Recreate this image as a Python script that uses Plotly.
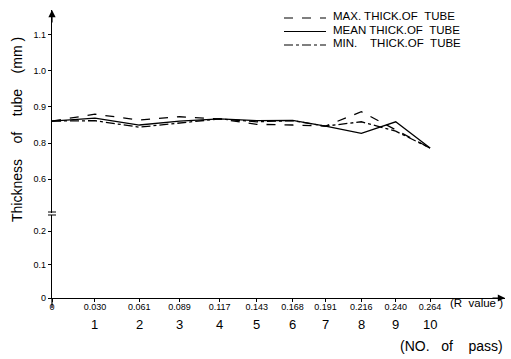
import plotly.graph_objects as go

# ---- data ----
r_values = [0, 0.030, 0.061, 0.089, 0.117, 0.143, 0.168, 0.191, 0.216, 0.240, 0.264]
r_labels = ["0", "0.030", "0.061", "0.089", "0.117", "0.143", "0.168", "0.191", "0.216", "0.240", "0.264"]
pass_numbers = ["", "1", "2", "3", "4", "5", "6", "7", "8", "9", "10"]

max_thick = [0.861, 0.880, 0.864, 0.873, 0.867, 0.852, 0.850, 0.847, 0.887, 0.836, 0.786]
mean_thick = [0.861, 0.869, 0.850, 0.861, 0.867, 0.862, 0.863, 0.847, 0.827, 0.859, 0.786]
min_thick = [0.861, 0.862, 0.844, 0.855, 0.867, 0.859, 0.862, 0.847, 0.859, 0.833, 0.786]

upper_tickvals = [0.7, 0.8, 0.9, 1.0, 1.1]
upper_ticktext = ["0.6", "0.8", "0.9", "1.0", "1.1"]
lower_tickvals = [0, 0.1, 0.2]
lower_ticktext = ["0", "0.1", "0.2"]

NB = "\u00a0"
series_names = ["MAX. THICK.OF" + NB * 2 + "TUBE",
                "MEAN THICK.OF" + NB * 2 + "TUBE",
                "MIN." + NB * 4 + "THICK.OF" + NB * 2 + "TUBE"]
series_values = [max_thick, mean_thick, min_thick]
series_dash = ["dash", "solid", "dashdot"]

FONT = "Liberation Sans"
W, H = 511, 359
ML, MR, MT, MB = 52, 6, 10, 61
PW = W - ML - MR
PH = H - MT - MB

def py(pix):
    """pixel row -> paper y"""
    return (H - MB - pix) / PH

def px(pix):
    """pixel column -> paper x"""
    return (pix - ML) / PW

fig = go.Figure()
for name, vals, dash in zip(series_names, series_values, series_dash):
    fig.add_trace(go.Scatter(
        x=r_values, y=vals, mode="lines", name=name,
        line=dict(color="black", width=1.3, dash=dash),
        xaxis="x", yaxis="y2", showlegend=False, hoverinfo="skip",
    ))
# empty trace so that the lower (broken) y-axis subplot exists
fig.add_trace(go.Scatter(x=[None], y=[None], mode="lines", xaxis="x", yaxis="y",
                         showlegend=False, hoverinfo="skip"))

axis_common = dict(showgrid=False, zeroline=False, showline=True, linecolor="black",
                   linewidth=1.2, ticks="outside", tickcolor="black", ticklen=3,
                   automargin=False,
                   tickfont=dict(family=FONT, size=9, color="black"))

fig.update_layout(
    template="none",
    width=W, height=H,
    margin=dict(l=ML, r=MR, t=MT, b=MB),
    paper_bgcolor="white", plot_bgcolor="white",
    font=dict(family=FONT, color="black"),
    xaxis=dict(domain=[0, 1], range=[0, 0.3163], anchor="y",
               tickvals=r_values, ticktext=r_labels, ticklabelstandoff=-3, **axis_common),
    yaxis=dict(domain=[0, py(215)], range=[0, 0.248], anchor="x",
               tickvals=lower_tickvals, ticktext=lower_ticktext, **axis_common),
    yaxis2=dict(domain=[py(213), 1], range=[0.606, 1.169], anchor="x",
                tickvals=upper_tickvals, ticktext=upper_ticktext, **axis_common),
    showlegend=False,
)

annotations = []
for r, p in zip(r_values, pass_numbers):
    if p:
        annotations.append(dict(x=r, xref="x", y=py(324), yref="paper", text=p,
                                xanchor="center", yanchor="middle",
                                showarrow=False, font=dict(family=FONT, size=13)))
annotations += [
    dict(x=px(505), xref="paper", y=py(303), yref="paper",
         text="(R" + NB * 2 + "value" + NB + ")",
         xanchor="right", yanchor="middle",
         showarrow=False, font=dict(family=FONT, size=11.5)),
    dict(x=px(505), xref="paper", y=py(346), yref="paper",
         text="(NO." + NB * 3 + "of" + NB * 4 + "pass)",
         xanchor="right", yanchor="middle",
         showarrow=False, font=dict(family=FONT, size=14)),
    dict(x=px(17), xref="paper", y=py(130), yref="paper",
         text="Thickness" + NB * 4 + "of" + NB * 4 + "tube" + NB * 4 + "(mm" + NB + ")",
         xanchor="center", yanchor="middle",
         textangle=-90, showarrow=False, font=dict(family=FONT, size=14)),
    # axis arrows
    dict(x=0, xref="paper", y=1.0, yref="paper", ax=0, ay=14, showarrow=True,
         arrowhead=2, arrowsize=1.2, arrowwidth=1.2, arrowcolor="black", text=""),
    dict(x=1.0, xref="paper", y=0, yref="paper", ax=-14, ay=0, showarrow=True,
         arrowhead=2, arrowsize=1.2, arrowwidth=1.2, arrowcolor="black", text=""),
]

shapes = [
    # y axis extends slightly below x axis
    dict(type="line", xref="paper", yref="paper", x0=0, x1=0, y0=0, y1=py(308),
         line=dict(color="black", width=1.2)),
    # axis break marks
    dict(type="line", xref="paper", yref="paper", x0=px(48), x1=px(56), y0=py(212), y1=py(212),
         line=dict(color="black", width=1)),
    dict(type="line", xref="paper", yref="paper", x0=px(48), x1=px(56), y0=py(215), y1=py(215),
         line=dict(color="black", width=1)),
]

# hand-drawn key (as in the original figure)
legend_rows = [16, 29.5, 43]
for name, dash, row in zip(series_names, series_dash, legend_rows):
    shapes.append(dict(type="line", xref="paper", yref="paper",
                       x0=px(284), x1=px(326), y0=py(row + 2), y1=py(row + 2),
                       line=dict(color="black", width=1.2, dash=dash)))
    annotations.append(dict(x=px(331), xref="paper", y=py(row), yref="paper", text=name,
                            xanchor="left", yanchor="middle", showarrow=False,
                            font=dict(family=FONT, size=11.5)))

fig.update_layout(annotations=annotations, shapes=shapes)

fig.write_html("out.html", config={"displayModeBar": False},
               post_script="document.body.style.margin='0';document.body.style.overflow='hidden';")
